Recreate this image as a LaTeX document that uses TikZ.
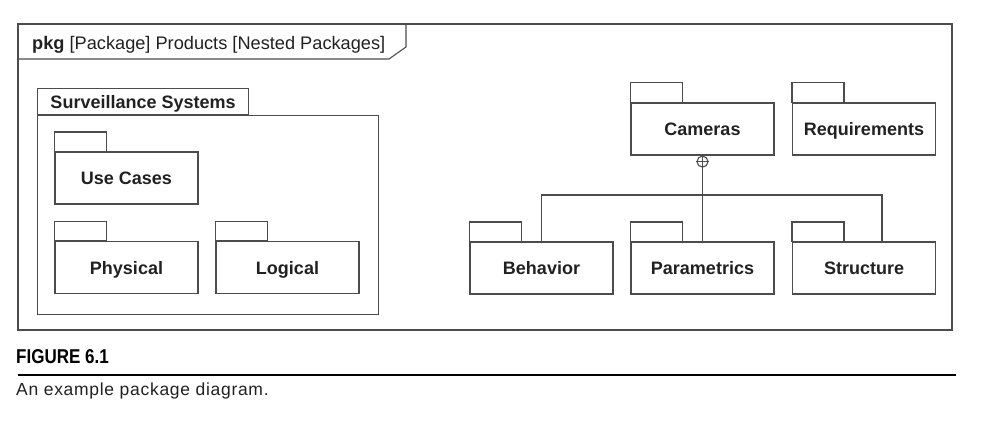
\documentclass[tikz,border=0pt]{standalone}
\usepackage{fontspec}
\setmainfont{Liberation Sans}
\newfontfamily\figfont[FakeStretch=0.85]{Liberation Sans}
\newfontfamily\capfont[LetterSpace=4]{Liberation Sans}
\usetikzlibrary{calc}

\definecolor{linegray}{gray}{0.3}
\definecolor{inkgray}{gray}{0.13}

\tikzset{
  pkgline/.style={draw=linegray, line width=1.1pt},
  pkgtext/.style={text=inkgray, font=\fontsize{18}{21}\selectfont\bfseries,
    text height=13pt, text depth=0pt},
  pkg/.style={pkgline, pkgtext, minimum width=143pt, minimum height=52pt, inner sep=0pt,
    append after command={\pgfextra{\draw[pkgline] (\tikzlastnode.north west) rectangle ++(52pt,19.5pt);}}},
  nestmark/.style={pkgline, circle, minimum size=11pt, inner sep=0pt},
}

\begin{document}
\begin{tikzpicture}[x=1pt,y=-1pt]
  \useasboundingbox (0,0) rectangle (996,428);
  % diagram frame and its heading
  \draw[pkgline] (18,24) rectangle (952,330);
  \draw[pkgline] (18,59) -- (389,59) -- (406,47) -- (406,24);
  \node[anchor=base west, inner sep=0pt, text=inkgray, font=\fontsize{18.2}{21}\selectfont] (title)
    at (32,50) {\textbf{pkg} [Package] Products [Nested Packages]};

  % nested package
  \node[pkgline, pkgtext, anchor=north west, minimum width=211pt, minimum height=26pt, inner sep=0pt]
    (survtab) at (37,88) {Surveillance Systems};
  \node[pkgline, anchor=north west, minimum width=341pt, minimum height=199pt, inner sep=0pt]
    (surv) at (survtab.south west) {};
  \node[pkg] (usecases) at (126.5,178) {Use Cases};
  \node[pkg] (physical) at (126.5,267.5) {Physical};
  \node[pkg] (logical) at (287.5,267.5) {Logical};

  % camera packages
  \node[pkg] (cameras) at (702.5,129) {Cameras};
  \node[pkg] (requirements) at (864,129) {Requirements};
  \node[pkg] (behavior) at (541.5,268) {Behavior};
  \node[pkg] (parametrics) at (702.5,268) {Parametrics};
  \node[pkg] (structure) at (864,268) {Structure};

  % containment
  \node[nestmark, anchor=north] (nest) at (cameras.south) {};
  \coordinate (fork) at (702.5,195);
  \draw[pkgline] (nest.west) -- (nest.east);
  \draw[pkgline] (nest.north) -- (parametrics.north);
  \draw[pkgline] (behavior.north) |- (fork) -| ([xshift=18pt]structure.north);

  % caption
  \node[anchor=base west, inner sep=0pt, text=black, font=\fontsize{20}{22}\figfont\bfseries]
    (figno) at (16,363) {FIGURE 6.1};
  \draw[line width=2pt] (18,375) -- (956,375);
  \node[anchor=base west, inner sep=0pt, text=inkgray, font=\fontsize{17.5}{20}\capfont]
    (caption) at (16,395) {An example package diagram.};
\end{tikzpicture}
\end{document}
